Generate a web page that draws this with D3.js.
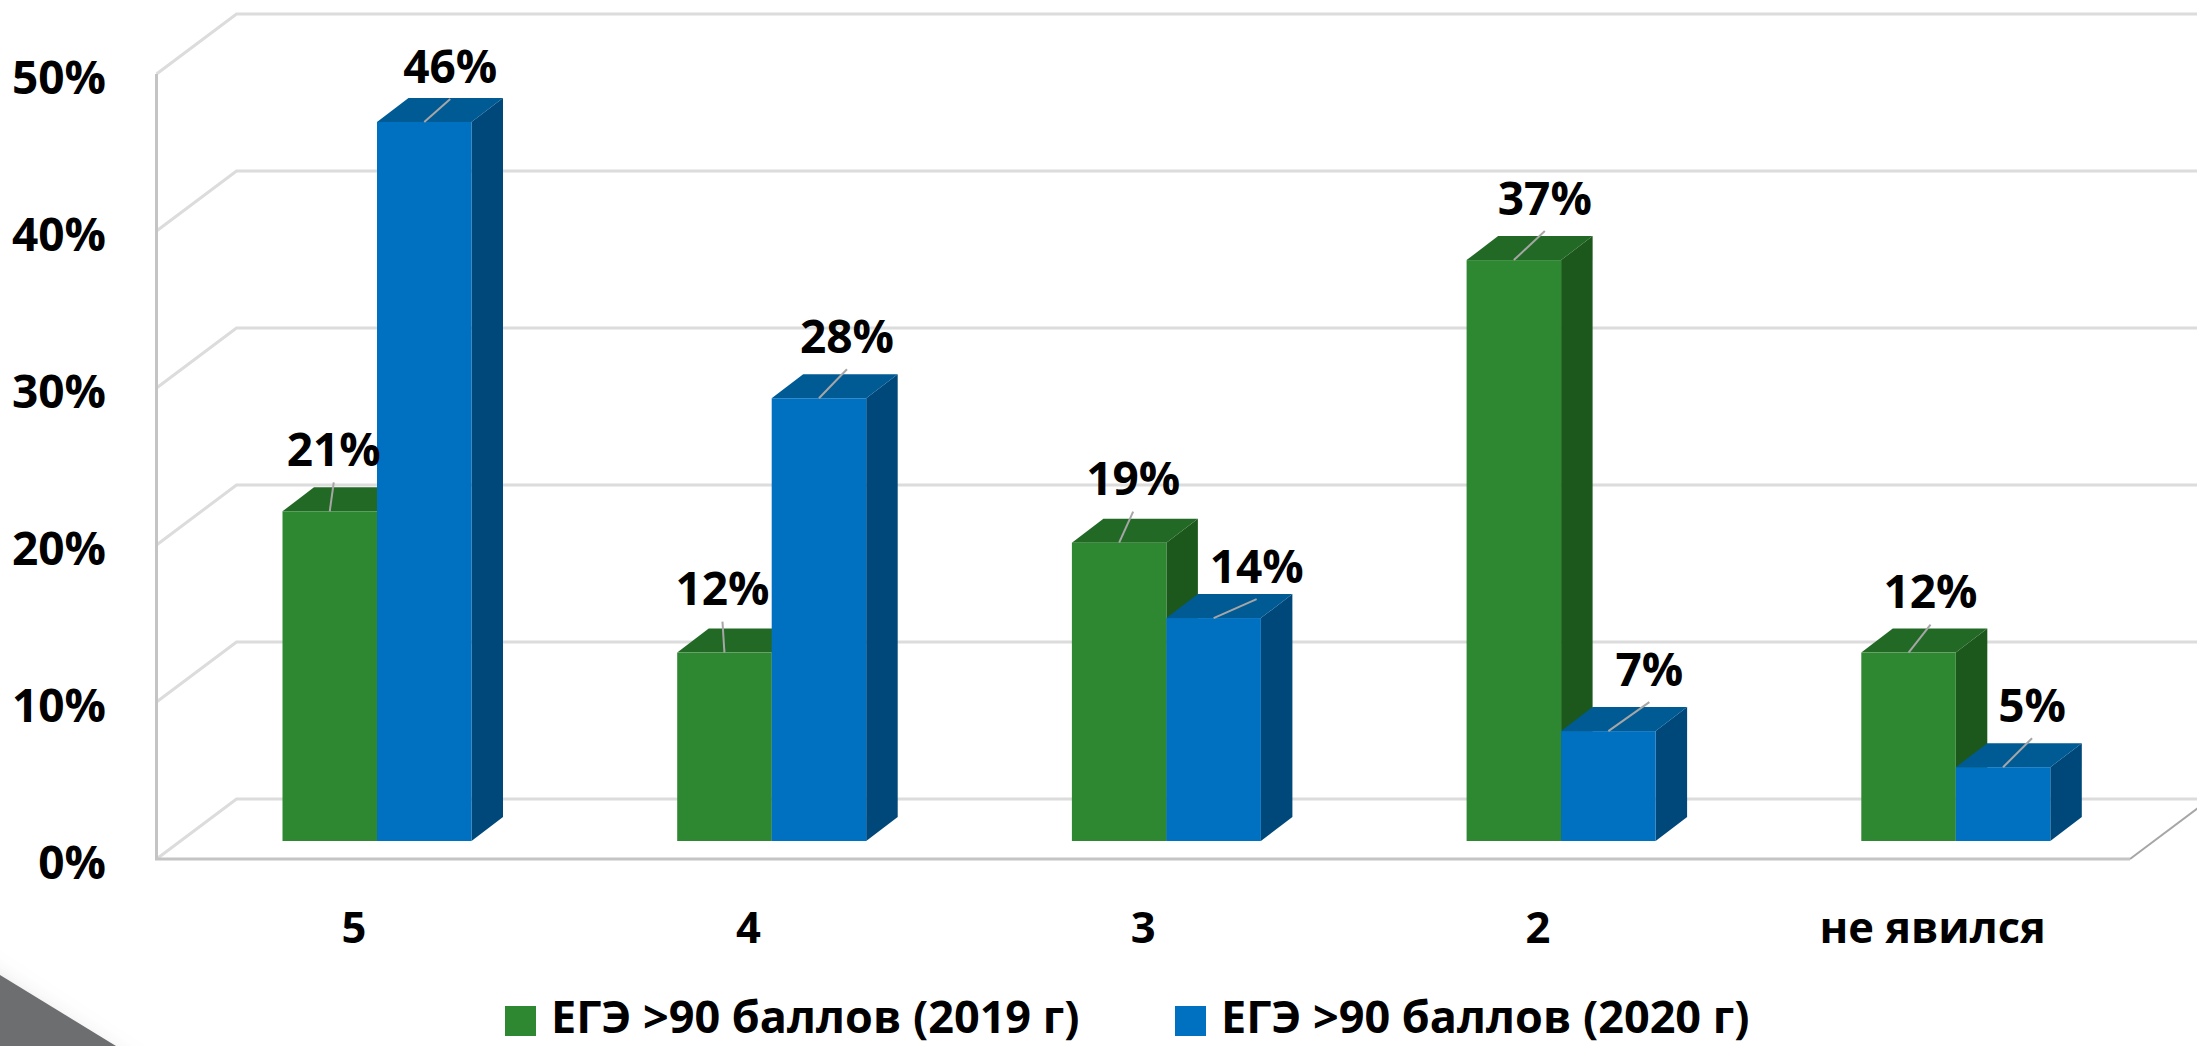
<!DOCTYPE html>
<html>
<head>
<meta charset="utf-8">
<script src="https://cdn.jsdelivr.net/npm/d3@7"></script>
<style>
    html, body { margin: 0; padding: 0; background: #fff; overflow: hidden; }
    svg { display: block; }
    text { font-family: "Open Sans", sans-serif; font-weight: 700; fill: #000; }
</style>
</head>
<body>
<svg></svg>
<script>
const categories = ["5", "4", "3", "2", "не явился"];
const values2019 = [21, 12, 19, 37, 12];
const values2020 = [45.8, 28.2, 14.2, 7, 4.7];
const yTicks = [0, 10, 20, 30, 40, 50];
const seriesNames = ["ЕГЭ >90 баллов (2019 г)", "ЕГЭ >90 баллов (2020 г)"];

// where each data label sits relative to the top of its bar
const labelShift2019 = [[4, -62], [-2, -64], [14, -64], [31, -62], [22, -61]];
const labelShift2020 = [[26, -56], [28, -62], [43, -52], [41, -62], [29, -62]];

const width = 2197;
const height = 1046;

const series = [
    {name: seriesNames[0], values: values2019, shift: labelShift2019, front: "#2e8731", top: "#236926", side: "#1c581c"},
    {name: seriesNames[1], values: values2020, shift: labelShift2020, front: "#0070c0", top: "#005a94", side: "#00477a"}
];

// the wall is a flat projection: back plane sits up and right of the front plane
const wallDx = 80, wallDy = 60;
const barDx = 31.5, barDy = 24;
const barWidth = 94.5, barOffset = 126;

const svg = d3.select("svg")
    .attr("width", width)
    .attr("height", height)
    .attr("viewBox", [0, 0, width, height]);

const defs = svg.append("defs");
defs.append("filter").attr("id", "soft")
    .attr("x", "-50%").attr("y", "-50%").attr("width", "200%").attr("height", "200%")
    .append("feGaussianBlur").attr("stdDeviation", 16);

const x = d3.scaleBand().domain(categories).range([156.5, 2130]);
const yFront = d3.scaleLinear().domain([0, 50]).range([859, 74]);
const yBar = d3.scaleLinear().domain([0, 50]).range([841, 56]);

// corner decoration
const corner = d3.line();
svg.append("path")
    .attr("d", corner([[-60, 955], [140, 1046 + 40], [-60, 1086]]))
    .attr("fill", "#6d6e70")
    .attr("opacity", 0.55)
    .attr("filter", "url(#soft)");
svg.append("path")
    .attr("d", corner([[0, 975], [116, 1046], [0, 1046]]))
    .attr("fill", "#6d6e70");

// walls
const grid = svg.append("g").attr("fill", "none");
grid.selectAll("path.grid")
    .data(yTicks)
    .join("path")
    .attr("class", "grid")
    .attr("stroke", "#dcdcdc")
    .attr("stroke-width", 3)
    .attr("d", d => corner([
        [x.range()[0], yFront(d)],
        [x.range()[0] + wallDx, yFront(d) - wallDy],
        [width + 10, yFront(d) - wallDy]
    ]));

grid.append("path")
    .attr("stroke", "#a6a6a6")
    .attr("stroke-width", 2)
    .attr("d", corner([
        [x.range()[1], yFront(0)],
        [x.range()[1] + wallDx, yFront(0) - wallDy]
    ]));
grid.append("path")
    .attr("stroke", "#c4c4c4")
    .attr("stroke-width", 3)
    .attr("d", corner([
        [x.range()[0], yFront(50)],
        [x.range()[0], yFront(0)],
        [x.range()[1], yFront(0)]
    ]));

// bars
series.forEach((s, si) => {
    const g = svg.append("g").selectAll("g")
        .data(categories.map((c, i) => ({c, v: s.values[i]})))
        .join("g");

    const left = d => x(d.c) + barOffset + si * barWidth;
    const right = d => left(d) + barWidth;

    g.append("path")
        .attr("fill", s.side)
        .attr("d", d => corner([
            [right(d), yBar(d.v)],
            [right(d) + barDx, yBar(d.v) - barDy],
            [right(d) + barDx, yBar(0) - barDy],
            [right(d), yBar(0)]
        ]));
    g.append("path")
        .attr("fill", s.top)
        .attr("d", d => corner([
            [left(d), yBar(d.v)],
            [left(d) + barDx, yBar(d.v) - barDy],
            [right(d) + barDx, yBar(d.v) - barDy],
            [right(d), yBar(d.v)]
        ]));
    g.append("rect")
        .attr("fill", s.front)
        .attr("x", left)
        .attr("y", d => yBar(d.v))
        .attr("width", barWidth)
        .attr("height", d => yBar(0) - yBar(d.v));
});

// labels and leader lines go over all bars
series.forEach((s, si) => {
    const g = svg.append("g");
    categories.forEach((c, i) => {
        const cx = x(c) + barOffset + si * barWidth + barWidth / 2;
        const top = yBar(s.values[i]);
        const [dx, dy] = s.shift[i];
        g.append("line")
            .attr("stroke", "#a6a6a6")
            .attr("stroke-width", 2)
            .attr("x1", cx)
            .attr("y1", top)
            .attr("x2", cx + dx)
            .attr("y2", top + dy + 33);
        g.append("text")
            .attr("x", cx + dx)
            .attr("y", top + dy)
            .attr("dy", "0.36em")
            .attr("text-anchor", "middle")
            .attr("font-size", 46)
            .text(Math.round(s.values[i]) + "%");
    });
});

// axes, only their labels are visible
const yAxis = svg.append("g")
    .attr("transform", "translate(106,3)")
    .call(d3.axisLeft(yFront).tickValues(yTicks).tickSize(0).tickPadding(0).tickFormat(d => d + "%"));
const xAxis = svg.append("g")
    .attr("transform", "translate(0,912)")
    .call(d3.axisBottom(x).tickSize(0).tickPadding(0));
yAxis.select(".domain").remove();
xAxis.select(".domain").remove();
svg.selectAll(".tick text").style("font-family", null);
yAxis.selectAll("text").attr("font-size", 46).attr("dy", "0.36em");
xAxis.selectAll("text").attr("font-size", 43.5).attr("dy", "0.72em");
svg.selectAll("g[font-family]").attr("font-family", null);

// legend
const legendX = d3.scaleOrdinal().domain(seriesNames).range([505, 1175]);
const legend = svg.append("g").selectAll("g")
    .data(series)
    .join("g")
    .attr("transform", d => `translate(${legendX(d.name)},1006)`);
legend.append("rect")
    .attr("width", 31)
    .attr("height", 30)
    .attr("fill", d => d.front);
legend.append("text")
    .attr("x", 46)
    .attr("y", 27)
    .attr("font-size", 45)
    .text(d => d.name);
</script>
</body>
</html>
